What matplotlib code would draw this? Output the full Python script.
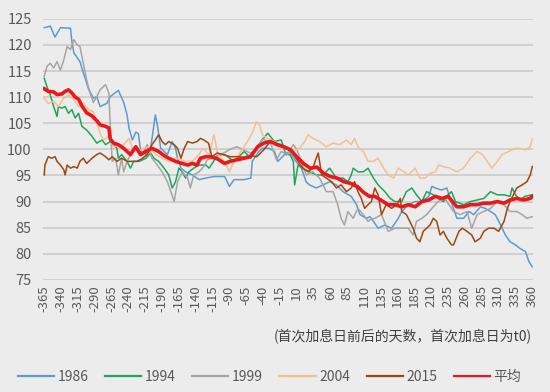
import matplotlib
matplotlib.use("Agg")
import matplotlib.pyplot as plt

plt.rcParams['font.family'] = ['Noto Sans CJK SC', 'DejaVu Sans']

# 数据
d1986 = [-365, -356, -349, -341, -326, -324, -321, -312, -304, -299, -292, -287, -282, -277, -272, -267,
         -255, -247, -242, -239, -234, -229, -225, -222, -214, -207, -202, -200, -197, -192, -182, -175,
         -170, -167, -162, -155, -145, -135, -125, -112, -97, -90, -83, -68, -58, -56, -53, -46, -41, -31,
         -23, -18, -8, -1, 9, 17, 24, 29, 39, 49, 59, 69, 79, 91, 99, 104, 113, 119, 124, 131, 141, 151,
         161, 166, 176, 186, 196, 206, 211, 216, 225, 233, 241, 248, 258, 266, 273, 283, 290, 298, 305,
         313, 320, 327, 335, 342, 350, 355, 360]
v1986 = [123.3, 123.6, 121.5, 123.3, 123.2, 120.7, 118.5, 116.8, 113.5, 111.5, 109.8, 110.1, 108.2, 108.5,
         108.8, 110.1, 111.3, 109.0, 106.6, 104.0, 101.8, 103.3, 103.0, 99.8, 99.0, 100.2, 104.7, 106.6,
         104.7, 100.2, 99.0, 101.5, 100.2, 98.3, 96.4, 95.7, 95.1, 94.2, 94.5, 94.8, 94.8, 92.9, 94.2, 94.2,
         94.5, 97.7, 98.3, 99.6, 100.2, 100.2, 99.6, 97.7, 99.0, 99.6, 97.7, 96.4, 93.8, 93.2, 92.6, 93.2,
         93.8, 93.2, 91.9, 91.0, 89.4, 87.5, 86.8, 87.1, 86.2, 84.9, 85.5, 84.9, 86.8, 88.1, 89.4, 90.0,
         90.0, 91.0, 92.9, 92.6, 92.2, 92.6, 89.4, 86.8, 86.8, 88.1, 87.5, 89.0, 88.7, 88.1, 87.5, 85.5,
         83.6, 82.3, 81.7, 81.0, 80.4, 78.5, 77.5]

d1994 = [-365, -361, -356, -351, -346, -344, -339, -334, -329, -324, -319, -314, -309, -302, -294, -287,
         -279, -274, -267, -257, -255, -250, -242, -237, -232, -224, -214, -207, -202, -195, -187, -180,
         -175, -170, -165, -160, -155, -150, -143, -135, -125, -120, -107, -97, -83, -68, -58, -49, -43,
         -33, -23, -13, -6, 0, 5, 7, 12, 19, 29, 39, 49, 59, 69, 79, 86, 91, 94, 101, 109, 116, 124, 131,
         141, 149, 156, 166, 173, 181, 188, 196, 203, 213, 220, 228, 235, 240, 246, 258, 268, 278, 288,
         298, 308, 318, 327, 330, 335, 342, 349, 360]
v1994 = [113.6, 112.0, 110.4, 108.2, 106.3, 108.2, 107.9, 108.2, 106.9, 107.6, 106.0, 106.9, 104.4, 103.7,
         102.5, 101.2, 101.8, 100.9, 101.5, 100.2, 98.3, 99.0, 97.7, 96.4, 97.7, 97.7, 98.3, 99.3, 98.3,
         97.7, 96.4, 95.1, 92.6, 93.8, 96.4, 95.7, 94.5, 95.7, 96.4, 97.0, 97.0, 96.4, 99.0, 99.0, 97.7,
         99.6, 98.3, 100.5, 101.5, 103.1, 101.5, 101.8, 99.0, 99.0, 97.7, 93.2, 97.0, 96.4, 95.7, 95.1,
         95.1, 96.4, 94.5, 94.5, 93.8, 95.1, 96.4, 95.7, 95.7, 96.4, 94.5, 93.2, 91.9, 90.6, 90.0, 90.0,
         91.9, 92.6, 91.3, 90.0, 91.9, 91.3, 90.6, 90.0, 91.3, 91.9, 90.0, 89.4, 90.0, 90.3, 90.6, 91.9,
         91.3, 91.3, 91.0, 92.6, 91.3, 90.3, 91.0, 91.3]

d1999 = [-365, -361, -356, -351, -346, -341, -336, -331, -326, -321, -316, -312, -307, -302, -297, -292,
         -287, -282, -274, -269, -267, -264, -259, -255, -250, -247, -242, -234, -227, -219, -212, -205,
         -197, -190, -182, -177, -172, -167, -160, -152, -148, -143, -135, -128, -123, -108, -89, -79, -59,
         -49, -41, -29, -20, -13, -4, 5, 10, 17, 24, 34, 44, 54, 64, 71, 76, 81, 86, 94, 101, 109, 116,
         119, 126, 136, 146, 156, 166, 176, 183, 188, 196, 203, 211, 220, 230, 243, 253, 263, 270, 278,
         288, 298, 308, 318, 327, 337, 345, 352, 360]
v1999 = [114.0, 115.9, 116.5, 115.6, 116.8, 115.2, 117.1, 119.7, 119.1, 121.0, 120.0, 119.7, 116.5, 113.3,
         110.8, 109.0, 110.1, 111.4, 112.4, 110.8, 104.7, 97.7, 98.3, 95.1, 98.3, 95.7, 97.7, 99.6, 100.2,
         99.0, 100.9, 98.3, 97.0, 95.7, 93.8, 91.9, 90.0, 93.8, 95.7, 94.5, 92.6, 95.1, 95.7, 96.7, 98.0,
         98.6, 100.0, 100.5, 99.3, 99.9, 102.1, 101.2, 98.0, 99.6, 99.0, 100.9, 100.0, 97.7, 95.1, 95.7,
         94.5, 91.9, 91.9, 89.4, 86.8, 85.5, 88.1, 86.8, 88.7, 87.5, 86.2, 86.5, 86.8, 87.5, 84.3, 84.9,
         84.9, 84.9, 83.6, 86.2, 86.8, 87.5, 88.7, 90.0, 90.6, 88.1, 87.5, 88.1, 84.9, 87.5, 88.1, 88.7,
         90.0, 89.4, 88.1, 88.1, 87.5, 86.8, 87.1]

d2004 = [-365, -359, -351, -344, -336, -329, -321, -314, -307, -299, -292, -287, -282, -277, -269, -262,
         -247, -239, -234, -224, -219, -209, -200, -190, -180, -170, -162, -155, -145, -135, -130, -125,
         -120, -113, -107, -97, -90, -83, -73, -63, -55, -50, -45, -41, -33, -23, -13, -3, 5, 14, 22, 27,
         34, 44, 54, 64, 74, 84, 91, 96, 101, 109, 116, 124, 131, 139, 146, 154, 161, 169, 176, 186, 193,
         201, 208, 216, 221, 228, 238, 248, 258, 268, 278, 286, 293, 300, 308, 315, 325, 335, 342, 350,
         357, 360]
v2004 = [109.8, 108.8, 109.2, 108.2, 109.8, 110.4, 109.5, 108.2, 108.8, 107.6, 107.2, 105.0, 103.1, 101.8,
         102.5, 100.5, 100.9, 102.1, 100.2, 99.6, 100.2, 100.5, 99.0, 98.3, 97.7, 98.3, 98.0, 97.7, 97.7,
         99.0, 100.2, 99.6, 99.0, 102.8, 99.0, 97.7, 95.7, 97.7, 99.6, 101.5, 103.4, 105.3, 104.7, 102.8,
         102.1, 101.5, 100.5, 100.2, 99.6, 100.2, 101.5, 102.8, 102.1, 101.5, 100.5, 101.2, 100.9, 101.8,
         100.9, 102.1, 100.5, 99.6, 97.7, 97.7, 98.3, 96.4, 95.1, 94.5, 96.4, 95.7, 95.1, 96.4, 94.5, 94.5,
         95.4, 95.7, 97.0, 96.7, 96.4, 95.7, 96.4, 98.3, 99.6, 99.0, 97.7, 96.4, 97.7, 99.0, 99.6, 100.2,
         100.2, 99.9, 100.5, 102.0]

d2015 = [-365, -364, -359, -354, -349, -346, -341, -336, -334, -331, -326, -321, -316, -312, -307, -302,
         -294, -287, -282, -274, -269, -264, -257, -250, -242, -234, -227, -219, -212, -205, -200, -195,
         -190, -185, -180, -172, -167, -162, -157, -152, -145, -138, -133, -128, -121, -116, -108, -99,
         -89, -79, -68, -59, -49, -39, -29, -14, 1, 9, 19, 27, 34, 39, 42, 44, 47, 54, 62, 69, 76, 84, 91,
         96, 101, 106, 111, 116, 121, 126, 131, 136, 143, 151, 159, 164, 166, 173, 178, 183, 188, 193, 198,
         203, 208, 213, 218, 223, 228, 233, 240, 243, 251, 256, 263, 270, 275, 283, 288, 295, 303, 310, 318,
         323, 327, 332, 337, 345, 352, 357, 360]
v2015 = [95.1, 97.0, 98.6, 98.3, 98.6, 97.7, 97.0, 96.1, 95.1, 97.0, 96.4, 96.7, 96.4, 97.7, 98.3, 97.3,
         98.3, 99.0, 99.3, 98.6, 98.0, 98.6, 97.7, 98.3, 97.7, 97.7, 97.7, 98.3, 99.0, 100.9, 101.8, 102.8,
         101.5, 100.9, 101.5, 100.9, 100.2, 98.3, 100.2, 101.5, 101.2, 101.5, 102.1, 101.8, 101.2, 98.6,
         99.3, 99.0, 98.6, 98.6, 98.5, 98.8, 98.6, 99.9, 101.5, 100.9, 99.9, 98.3, 96.4, 95.7, 96.4, 98.3,
         99.3, 97.7, 95.1, 94.5, 93.8, 92.6, 93.2, 91.9, 92.6, 93.8, 91.9, 90.6, 88.7, 89.4, 90.0, 92.6,
         91.3, 87.5, 89.4, 88.7, 89.4, 90.6, 88.1, 87.5, 86.2, 84.9, 83.0, 82.3, 84.3, 84.9, 85.5, 86.8,
         86.2, 83.6, 84.3, 83.0, 81.7, 81.7, 84.3, 84.9, 84.3, 83.6, 82.3, 83.0, 84.3, 84.9, 84.9, 84.3,
         86.2, 88.7, 90.0, 91.3, 92.6, 93.2, 93.8, 95.1, 96.7]

d_avg = [-365, -359, -351, -346, -339, -334, -329, -324, -319, -314, -309, -302, -294, -287, -282, -274,
         -269, -267, -262, -255, -247, -242, -237, -229, -222, -214, -205, -195, -187, -180, -170, -160,
         -152, -145, -138, -133, -125, -118, -108, -97, -89, -79, -68, -59, -53, -48, -39, -29, -19, -9, 1,
         10, 20, 30, 40, 50, 60, 70, 80, 90, 101, 109, 118, 126, 136, 146, 156, 166, 176, 186, 196, 206,
         216, 226, 235, 248, 258, 268, 278, 288, 298, 308, 318, 327, 337, 347, 357, 360]
v_avg = [111.6, 111.1, 111.0, 110.5, 110.6, 111.1, 111.4, 110.8, 110.0, 109.6, 108.3, 107.0, 106.4, 105.5,
         104.7, 104.4, 104.1, 102.0, 101.2, 100.9, 100.2, 99.6, 99.0, 100.5, 99.0, 99.6, 100.2, 99.6, 98.8,
         98.3, 97.7, 97.3, 97.0, 97.3, 97.0, 98.3, 98.6, 98.6, 98.2, 97.3, 97.7, 98.0, 98.3, 98.6, 99.6,
         100.5, 101.2, 101.5, 100.9, 100.5, 99.9, 98.6, 97.3, 96.4, 96.6, 95.4, 94.8, 94.5, 93.8, 93.5,
         92.8, 91.8, 91.0, 91.0, 90.2, 89.4, 89.4, 89.0, 89.4, 89.0, 90.0, 90.3, 91.0, 90.6, 91.0, 89.0,
         89.0, 89.4, 89.4, 89.7, 89.7, 90.0, 89.7, 90.3, 90.6, 90.3, 90.6, 91.0]

series = [
    ('1986', d1986, v1986, '#5B9BD5', 1.1),
    ('1994', d1994, v1994, '#1FA55A', 1.1),
    ('1999', d1999, v1999, '#A5A5A5', 1.1),
    ('2004', d2004, v2004, '#F4C08E', 1.1),
    ('2015', d2015, v2015, '#9E480E', 1.1),
    ('平均', d_avg, v_avg, '#E8181B', 2.6),
]

xticks = list(range(-365, 361, 25))
yticks = [75, 80, 85, 90, 95, 100, 105, 110, 115, 120, 125]

bg = '#ECECEC'
fig = plt.figure(figsize=(5.5, 3.92), dpi=100, facecolor=bg)
ax = fig.add_axes([0.078, 0.286, 0.891, 0.666], facecolor=bg)

for name, d, v, c, lw in series:
    ax.plot(d, v, color=c, lw=lw, label=name, zorder=3 if name == '平均' else 2)

ax.set_xlim(-367, 361)
ax.set_ylim(75, 125)
ax.set_yticks(yticks)
ax.set_xticks(xticks)
ax.set_xticklabels([str(t) for t in xticks], rotation=90, fontsize=9.5, color='#595959')
ax.tick_params(axis='y', labelsize=10.5, colors='#595959', length=0, pad=8)
ax.tick_params(axis='x', length=0, pad=4)
ax.grid(axis='y', color='#C8C8C8', lw=1.1)
ax.set_axisbelow(True)
for s in ax.spines.values():
    s.set_visible(False)

# x轴说明
fig.text(0.967, 0.14, '(首次加息日前后的天数，首次加息日为t0)', ha='right', va='center',
         fontsize=10, color='#404040')

leg = fig.legend(loc='center', bbox_to_anchor=(0.49, 0.038), ncol=6, frameon=False,
                 fontsize=10, handlelength=2.6, handletextpad=0.25, columnspacing=1.2)
for t in leg.get_texts():
    t.set_color('#595959')
for h in leg.get_lines():
    h.set_linewidth(1.6)

fig.savefig('out.png', dpi=100, facecolor=bg)
